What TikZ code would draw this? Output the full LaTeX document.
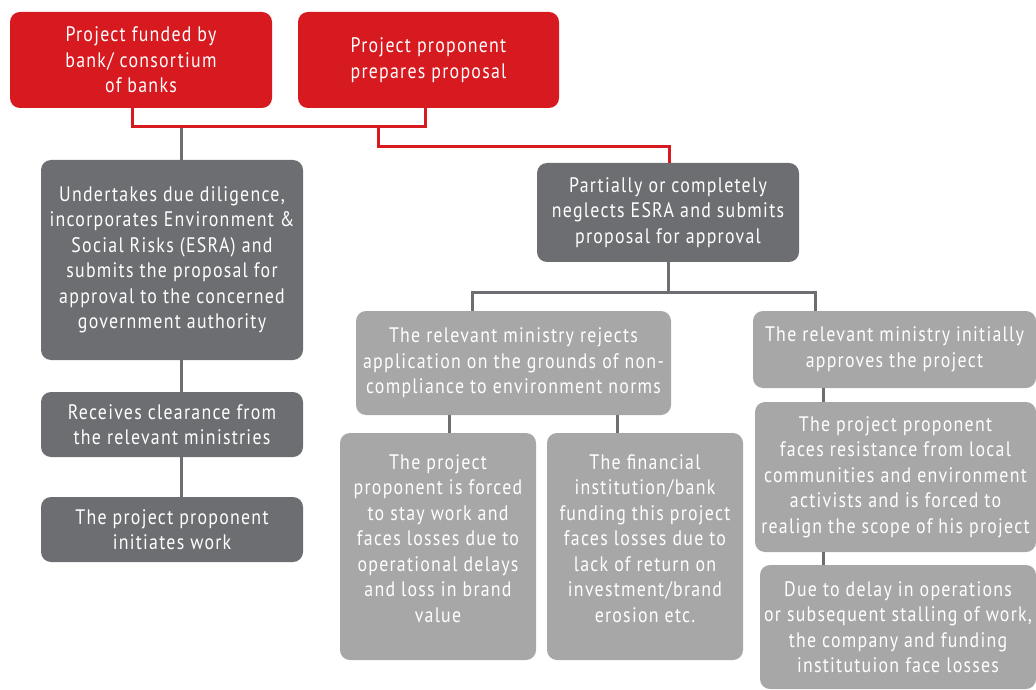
\documentclass[tikz,border=0pt]{standalone}
\usepackage{fontspec}
\setmainfont{PT Sans}[FakeStretch=0.85, LetterSpace=6]
\usepackage{tikz}
\usetikzlibrary{positioning}
\usepackage{xcolor}
\definecolor{esred}{HTML}{D71920}
\definecolor{esdark}{HTML}{6D6E71}
\definecolor{eslight}{HTML}{A7A7A7}

\tikzset{
  box/.style={inner sep=2pt, rounded corners=5pt, text=white, align=center,
    font=\fontsize{10.5pt}{12.75pt}\selectfont},
  redbox/.style={box, fill=esred},
  darkbox/.style={box, fill=esdark},
  lightbox/.style={box, fill=eslight},
  redline/.style={draw=esred, line width=1.5pt},
  greyline/.style={draw=esdark, line width=1.5pt}
}

\begin{document}
\begin{tikzpicture}[x=0.5pt, y=-0.5pt]
		\useasboundingbox (0,0) rectangle (1036,689);
		\path (141,60) node[redbox, minimum width=131pt, minimum height=48pt] (fund){Project funded by\\bank/ consortium\\of banks}
		(428.5,60) node[redbox, minimum width=130.5pt, minimum height=48pt] (prep) {Project proponent\\prepares proposal}
		(172,260) node[darkbox, minimum width=131pt, minimum height=100pt] (dilig) {Undertakes due diligence,\\incorporates Environment \&\\Social Risks (ESRA) and\\submits the proposal for\\approval to the concerned\\government authority}
		(172,424.5) node[darkbox, minimum width=131pt, minimum height=32.5pt] (clear) {Receives clearance from\\the relevant ministries}
		(172,529.5) node[darkbox, minimum width=131pt, minimum height=32.5pt] (init) {The project proponent\\initiates work}
		(668,212.5) node[darkbox, minimum width=131pt, minimum height=49.5pt] (negl) {Partially or completely\\neglects ESRA and submits\\proposal for approval}
		(513.5,363) node[lightbox, minimum width=157.5pt, minimum height=52pt] (reject) {The relevant ministry rejects\\application on the grounds of non-\\compliance to environment norms}
		(894.5,349.5) node[lightbox, minimum width=141.5pt, minimum height=38.5pt] (approve) {The relevant ministry initially\\approves the project}
		(438,546.5) node[lightbox, minimum width=98pt, minimum height=113.5pt] (stay) {The project\\proponent is forced\\to stay work and\\faces losses due to\\operational delays\\and loss in brand\\value\\[-4.75pt]}
		(645,546.5) node[lightbox, minimum width=98pt, minimum height=113.5pt] (bank) {The financial\\institution/bank\\funding this project\\faces losses due to\\lack of return on\\investment/brand\\erosion etc.\\[-4.75pt]}
		(895.5,477) node[lightbox, minimum width=140.5pt, minimum height=75pt] (resist) {The project proponent\\faces resistance from local\\communities and environment\\activists and is forced to\\realign the scope of his project}
		(898,627) node[lightbox, minimum width=138pt, minimum height=62pt] (loss) {Due to delay in operations\\or subsequent stalling of work,\\the company and funding\\institutuion face losses};

		% joints
		\coordinate (j1) at (132,127);
		\coordinate (j2) at (425,127);
		\coordinate (j3) at (378,127);
		\coordinate (j4) at (669,147);
		\coordinate (j5) at (181,127);
		\coordinate (j6) at (668,292);
		\coordinate (j7) at (472,292);
		\coordinate (j8) at (815,292);
		\coordinate (j9) at (449,0);
		\coordinate (j10) at (617,0);
		\coordinate (j11) at (823,0);

		\draw[greyline] (j5) -- (dilig.north -| j5);
		\draw[redline] (fund.south -| j1) |- (j2) -- (prep.south -| j2);
		\draw[redline] (j3) |- (j4) -- (negl.north -| j4);
		\draw[greyline] (dilig.south -| j5) -- (clear.north -| j5);
		\draw[greyline] (clear.south -| j5) -- (init.north -| j5);
		\draw[greyline] (negl.south -| j6) -- (j6);
		\draw[greyline] (reject.north -| j7) |- (j8) -- (approve.north -| j8);
		\draw[greyline] (reject.south -| j9) -- (stay.north -| j9);
		\draw[greyline] (reject.south -| j10) -- (bank.north -| j10);
		\draw[greyline] (approve.south -| j11) -- (resist.north -| j11);
		\draw[greyline] (resist.south -| j11) -- (loss.north -| j11);
	\end{tikzpicture}
\end{document}
